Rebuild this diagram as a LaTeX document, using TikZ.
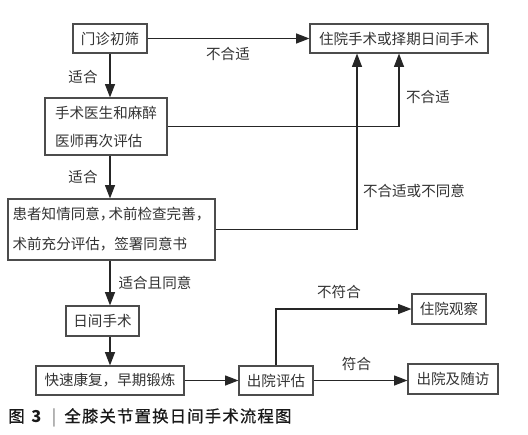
\documentclass[tikz,border=0pt]{standalone}
\usepackage{fontspec}
\setmainfont{Noto Sans CJK SC}
\usetikzlibrary{arrows.meta}
\def\px{0.75pt}
\begin{document}
\begin{tikzpicture}[x=0.75pt,y=-0.75pt,
  box/.style={draw=black!70, line width=0.85pt, inner sep=0pt, text=black!80,
    font=\fontsize{10.9pt}{21pt}\selectfont},
  conn/.style={draw=black!85, line width=0.85pt, -{Triangle[length=10pt,width=7.5pt]}},
  lbl/.style={text=black!80, font=\fontsize{10.9pt}{13pt}\selectfont, inner sep=0pt}]
\useasboundingbox[fill=white] (0,0) rectangle (528,435);
% boxes
\node[box, minimum width=74*\px, minimum height=29*\px] (n1) at (110,38.5) {门诊初筛};
\node[box, minimum width=178*\px, minimum height=29*\px] (n2) at (399,38.5) {住院手术或择期日间手术};
\node[box, align=left, minimum width=122*\px, minimum height=57*\px] (n3) at (106,126.5) {手术医生和麻醉\\医师再次评估};
\node[box, align=left, minimum width=207*\px, minimum height=61*\px,
  font=\fontsize{10.9pt}{22.5pt}\selectfont] (n4) at (111.5,229.5)
  {患者知情同意，\kern-.4em 术前检查完善，\\术前充分评估，签署同意书};
\node[box, minimum width=73*\px, minimum height=30*\px] (n5) at (102.5,321) {日间手术};
\node[box, minimum width=148*\px, minimum height=29*\px] (n6) at (110,380.5) {快速康复，早期锻炼};
\node[box, minimum width=74*\px, minimum height=29*\px] (n7) at (276,380.5) {出院评估};
\node[box, minimum width=74*\px, minimum height=30*\px] (n8) at (449,309) {住院观察};
\node[box, minimum width=90*\px, minimum height=30*\px] (n9) at (453,379) {出院及随访};
\coordinate (c1) at (357,0);
% connectors
\draw[conn] (n1.east) -- (n1.east -| n2.west);
\draw[conn] (n1.south) -- (n1.south |- n3.north);
\draw[conn] (n3.east) -| (n2.south);
\draw[conn] (n1.south |- n3.south) -- (n1.south |- n4.north);
\draw[conn] (n4.east) -| (c1 |- n2.south);
\draw[conn] (n1.south |- n4.south) -- (n1.south |- n5.north);
\draw[conn] (n1.south |- n5.south) -- (n6.north);
\draw[conn] (n6.east) -- (n7.west);
\draw[conn] (n7.north) |- (n8.west);
\draw[conn] (n7.east) -- (n7.east -| n9.west);
% labels
\node[lbl] (l1) at (228,54) {不合适};
\node[lbl] (l2) at (83,77) {适合};
\node[lbl] (l3) at (428,97) {不合适};
\node[lbl] (l4) at (83,177) {适合};
\node[lbl] (l5) at (414,191) {不合适或不同意};
\node[lbl] (l6) at (155,283) {适合且同意};
\node[lbl] (l7) at (339,292) {不符合};
\node[lbl] (l8) at (356.5,364) {符合};
% caption
\node[anchor=west, inner sep=0pt, text=black!90, font=\fontsize{12.3pt}{14pt}\selectfont] (cap) at (8,417.5)
  {{\addfontfeature{FakeBold=0.5}图}\hspace{5pt}{\bfseries 3}\hspace{8pt}{\color{black!55}|}\hspace{6pt}{\addfontfeature{LetterSpace=7,FakeBold=0.5}全膝关节置换日间手术流程图}};
\end{tikzpicture}
\end{document}
